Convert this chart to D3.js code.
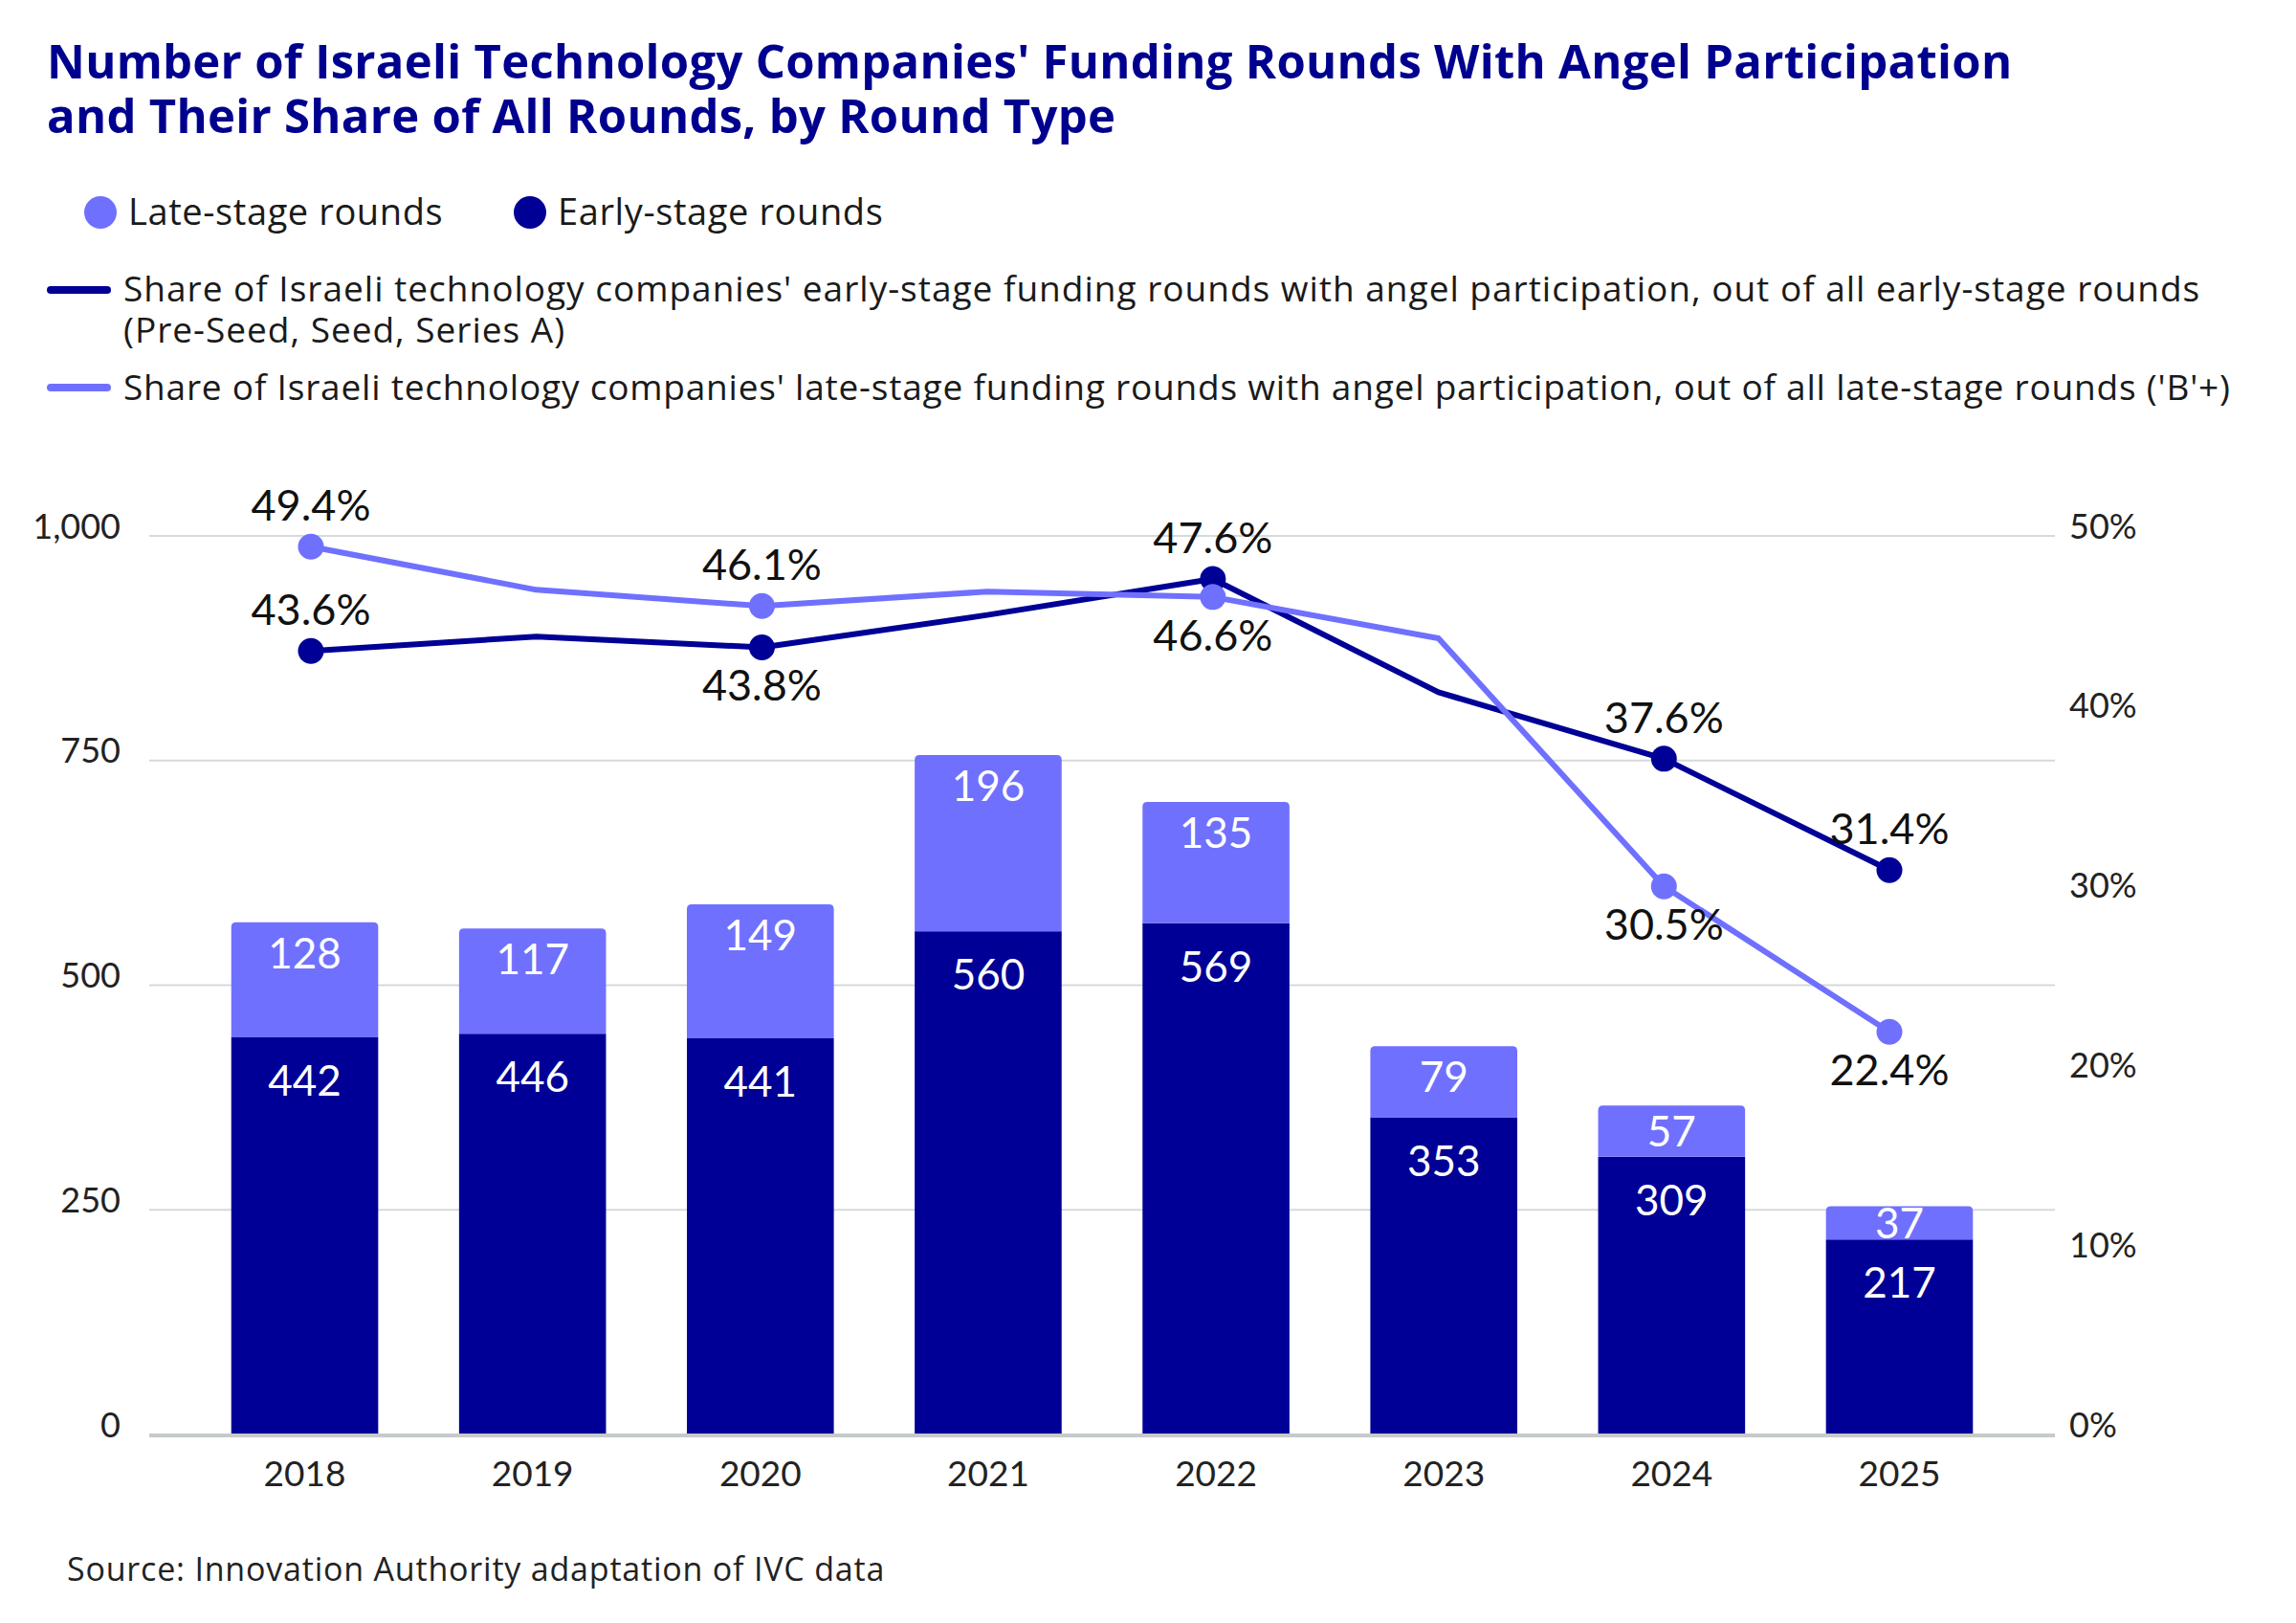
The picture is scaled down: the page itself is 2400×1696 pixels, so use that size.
<!DOCTYPE html>
<html>
<head>
<meta charset="utf-8">
<script src="https://cdn.jsdelivr.net/npm/d3@7"></script>
<style>
  body { margin: 0; background: #fff; }
  text { font-family: Lato, "Open Sans", sans-serif; }
  text.words { font-family: "Open Sans", Lato, sans-serif; }
</style>
</head>
<body>
<div id="chart"></div>
<script>
var years = ["2018", "2019", "2020", "2021", "2022", "2023", "2024", "2025"];
var earlyRounds = [442, 446, 441, 560, 569, 353, 309, 217];
var lateRounds = [128, 117, 149, 196, 135, 79, 57, 37];
var earlyShare = [43.6, 44.4, 43.8, 45.6, 47.6, 41.3, 37.6, 31.4];
var lateShare = [49.4, 47.0, 46.1, 46.9, 46.6, 44.3, 30.5, 22.4];
var countTicks = [0, 250, 500, 750, 1000];
var shareTicks = [0, 10, 20, 30, 40, 50];
var labelledYears = ["2018", "2020", "2022", "2024", "2025"];
var earlyLabelSide = ["above", null, "below", null, "above", null, "above", "above"];
var lateLabelSide = ["above", null, "above", null, "below", null, "below", "below"];

var dark = "#000096", light = "#7070ff";

var svg = d3.select("#chart")
  .append("svg")
  .attr("width", 2400)
  .attr("height", 1696);

// title
svg.append("text").attr("class", "words").attr("x", 49).attr("y", 82)
  .attr("fill", "#00008f").attr("font-weight", 700).attr("font-size", 49).attr("letter-spacing", 0.3)
  .text("Number of Israeli Technology Companies' Funding Rounds With Angel Participation");
svg.append("text").attr("class", "words").attr("x", 49).attr("y", 139)
  .attr("fill", "#00008f").attr("font-weight", 700).attr("font-size", 49).attr("letter-spacing", 0.3)
  .text("and Their Share of All Rounds, by Round Type");

// legend: bars
var legBars = [{ label: "Late-stage rounds", color: light, x: 105 }, { label: "Early-stage rounds", color: dark, x: 554 }];
legBars.forEach(function (d) {
  svg.append("circle").attr("cx", d.x).attr("cy", 222).attr("r", 17).attr("fill", d.color);
  svg.append("text").attr("class", "words").attr("x", d.x + 29).attr("y", 235)
    .attr("font-size", 38).attr("letter-spacing", 0.6).attr("fill", "#1a1a1a").text(d.label);
});

// legend: lines
svg.append("line").attr("x1", 53).attr("x2", 112).attr("y1", 303).attr("y2", 303)
  .attr("stroke", dark).attr("stroke-width", 8).attr("stroke-linecap", "round");
svg.append("text").attr("class", "words").attr("x", 129).attr("y", 315).attr("font-size", 37)
  .attr("letter-spacing", 1).attr("fill", "#1a1a1a")
  .text("Share of Israeli technology companies' early-stage funding rounds with angel participation, out of all early-stage rounds");
svg.append("text").attr("class", "words").attr("x", 129).attr("y", 358).attr("font-size", 37)
  .attr("letter-spacing", 1).attr("fill", "#1a1a1a")
  .text("(Pre-Seed, Seed, Series A)");
svg.append("line").attr("x1", 53).attr("x2", 112).attr("y1", 405).attr("y2", 405)
  .attr("stroke", light).attr("stroke-width", 8).attr("stroke-linecap", "round");
svg.append("text").attr("class", "words").attr("x", 129).attr("y", 418).attr("font-size", 37)
  .attr("letter-spacing", 0.8).attr("fill", "#1a1a1a")
  .text("Share of Israeli technology companies' late-stage funding rounds with angel participation, out of all late-stage rounds ('B'+)");

// scales
var x = d3.scaleBand().domain(years).range([156, 2148]).paddingInner(0.355).paddingOuter(0.36);
var xl = d3.scalePoint().domain(years).range([325, 1975]);
var y = d3.scaleLinear().domain([0, 1000]).range([1499, 560]);
var y2 = d3.scaleLinear().domain([0, 50]).range([1499, 560]);

// grid
svg.append("g").selectAll("line").data(countTicks.filter(function (d) { return d > 0; }))
  .enter().append("line")
  .attr("x1", 156).attr("x2", 2148)
  .attr("y1", function (d) { return y(d); }).attr("y2", function (d) { return y(d); })
  .attr("stroke", "#d5dadb").attr("stroke-width", 2);

// left axis
var yAxis = svg.append("g").attr("transform", "translate(126,0)")
  .call(d3.axisLeft(y).tickValues(countTicks).tickFormat(d3.format(",")).tickSize(0).tickPadding(0));
yAxis.select(".domain").remove();
yAxis.selectAll("text").attr("font-size", 36).attr("fill", "#222").attr("dy", "0").attr("y", 2)
  .style("font-family", "Lato, sans-serif");

// right axis
var y2Axis = svg.append("g").attr("transform", "translate(2163,0)")
  .call(d3.axisRight(y2).tickValues(shareTicks).tickFormat(function (d) { return d + "%"; }).tickSize(0).tickPadding(0));
y2Axis.select(".domain").remove();
y2Axis.selectAll("text").attr("font-size", 36).attr("fill", "#222").attr("dy", "0").attr("y", 2)
  .style("font-family", "Lato, sans-serif");

// bars
var rows = years.map(function (yr, i) {
  return { year: yr, early: earlyRounds[i], late: lateRounds[i] };
});
var bw = x.bandwidth();
var bars = svg.append("g").selectAll("g").data(rows).enter().append("g");

bars.append("rect")
  .attr("x", function (d) { return x(d.year); })
  .attr("y", function (d) { return y(d.early); })
  .attr("width", bw)
  .attr("height", function (d) { return y(0) - y(d.early); })
  .attr("fill", dark);

bars.append("path")
  .attr("d", function (d) {
    var x0 = x(d.year), x1 = x0 + bw, top = y(d.early + d.late), bot = y(d.early), r = 5;
    return "M" + x0 + "," + bot + "V" + (top + r) + "Q" + x0 + "," + top + " " + (x0 + r) + "," + top +
      "H" + (x1 - r) + "Q" + x1 + "," + top + " " + x1 + "," + (top + r) + "V" + bot + "Z";
  })
  .attr("fill", light);

bars.append("text")
  .attr("x", function (d) { return x(d.year) + bw / 2; })
  .attr("y", function (d) { return y(d.early) + 61; })
  .attr("text-anchor", "middle").attr("font-size", 44).attr("fill", "#fff")
  .text(function (d) { return d.early; });

bars.append("text")
  .attr("x", function (d) { return x(d.year) + bw / 2; })
  .attr("y", function (d) {
    var top = y(d.early + d.late), h = y(d.early) - top;
    return top + Math.min(h / 2 + 16, 48);
  })
  .attr("text-anchor", "middle").attr("font-size", 44).attr("fill", "#fff")
  .text(function (d) { return d.late; });

// baseline
svg.append("line").attr("x1", 156).attr("x2", 2148).attr("y1", y(0) + 1).attr("y2", y(0) + 1)
  .attr("stroke", "#c5cbca").attr("stroke-width", 4);

// x labels
svg.append("g").selectAll("text").data(years).enter().append("text")
  .attr("x", function (d) { return x(d) + bw / 2; })
  .attr("y", 1553)
  .attr("text-anchor", "middle").attr("font-size", 37).attr("fill", "#222")
  .text(function (d) { return d; });

// share lines
function drawShare(values, color, sides) {
  var pts = years.map(function (yr, i) { return { year: yr, v: values[i], side: sides[i] }; });
  var line = d3.line().x(function (d) { return xl(d.year); }).y(function (d) { return y2(d.v); });
  svg.append("path").datum(pts).attr("d", line)
    .attr("fill", "none").attr("stroke", color).attr("stroke-width", 6).attr("stroke-linejoin", "round");
  var marked = pts.filter(function (d) { return labelledYears.indexOf(d.year) >= 0; });
  svg.append("g").selectAll("circle").data(marked).enter().append("circle")
    .attr("cx", function (d) { return xl(d.year); })
    .attr("cy", function (d) { return y2(d.v); })
    .attr("r", 13.5).attr("fill", color);
  return marked;
}
var earlyMarked = drawShare(earlyShare, dark, earlyLabelSide);
var lateMarked = drawShare(lateShare, light, lateLabelSide);

svg.append("g").selectAll("text").data(earlyMarked.concat(lateMarked)).enter().append("text")
  .attr("x", function (d) { return xl(d.year); })
  .attr("y", function (d) { return y2(d.v) + (d.side === "above" ? -27 : 56); })
  .attr("text-anchor", "middle").attr("font-size", 45).attr("fill", "#111")
  .text(function (d) { return d3.format(".1f")(d.v) + "%"; });

// source
svg.append("text").attr("class", "words").attr("x", 70).attr("y", 1652).attr("font-size", 34)
  .attr("letter-spacing", 0.8).attr("fill", "#222")
  .text("Source: Innovation Authority adaptation of IVC data");
</script>
</body>
</html>
